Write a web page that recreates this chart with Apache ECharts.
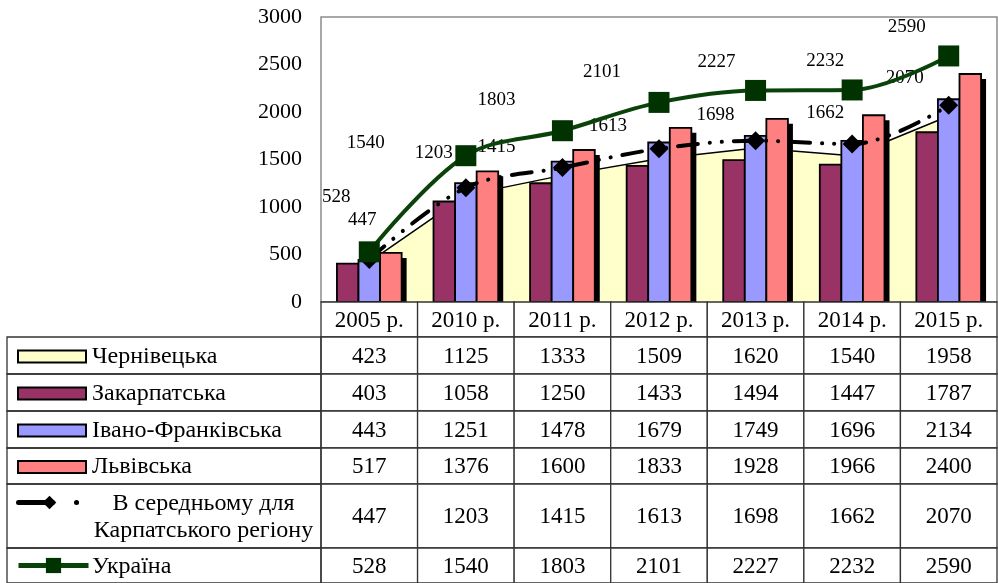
<!DOCTYPE html>
<html>
<head>
<meta charset="utf-8">
<script src="https://cdn.jsdelivr.net/npm/echarts@6/dist/echarts.min.js"></script>
<style>
  html, body { margin: 0; padding: 0; background: #fff; }
  #chart { width: 998px; height: 583px; }
</style>
</head>
<body>
<div id="chart"></div>
<script>
// дані (грн)
const categories = ['2005 р.', '2010 р.', '2011 р.', '2012 р.', '2013 р.', '2014 р.', '2015 р.'];
const chernivetska = [423, 1125, 1333, 1509, 1620, 1540, 1958];
const zakarpatska = [403, 1058, 1250, 1433, 1494, 1447, 1787];
const ivanoFrankivska = [443, 1251, 1478, 1679, 1749, 1696, 2134];
const lvivska = [517, 1376, 1600, 1833, 1928, 1966, 2400];
const average = [447, 1203, 1415, 1613, 1698, 1662, 2070];
const ukraine = [528, 1540, 1803, 2101, 2227, 2232, 2590];
const yMin = 0, yMax = 3000, yStep = 500;

const rowNames = ['Чернівецька', 'Закарпатська', 'Івано-Франківська', 'Львівська',
  'В середньому для Карпатського регіону', 'Україна'];
const rowValues = [chernivetska, zakarpatska, ivanoFrankivska, lvivska, average, ukraine];

// розмітка (не дані): межі рядків таблиці, px від верху таблиці
const rowEdges = [0, 35, 72, 109, 146, 182, 246, 281];
const tableTop = 302;
// зсуви підписів як у Excel
const ukraineLabelShift = [[-33, -55], [-100, -13], [-66, -31], [-57, -30], [-39, -28], [-27, -29], [-42, -29]];
const averageLabelShift = [[-7, -40], [-32, -35], [-66, -21], [-51, -23], [-40, -26], [-27, -31], [-44, -27]];

const font = "'Liberation Serif', 'Times New Roman', serif";
const barColors = ['#993366', '#9999FF', '#FF8080'];

// клітинки таблиці
const valueCells = [];
categories.forEach((c, i) => valueCells.push({ row: 0, col: i, text: c }));
rowValues.forEach((vals, r) => vals.forEach((v, i) => valueCells.push({ row: r + 1, col: i, text: String(v) })));
const nameCells = rowNames.map((n, r) => ({ row: r + 1, text: n }));

function cellRect(api, col, row) {
  const bw = api.size([1, 0])[0];
  const cx = api.coord([col, rowEdges[row]])[0];
  const y0 = api.coord([col, rowEdges[row]])[1];
  const y1 = api.coord([col, rowEdges[row + 1]])[1];
  return { x: cx - bw / 2, y: y0, width: bw, height: y1 - y0 };
}

function drawValueCell(params, api) {
  const cell = valueCells[params.dataIndex];
  const r = cellRect(api, cell.col, cell.row);
  return {
    type: 'group',
    children: [
      { type: 'rect', shape: r, style: { fill: '#fff', stroke: '#333', lineWidth: 1.3 } },
      { type: 'text', style: { text: cell.text, x: r.x + r.width / 2, y: r.y + r.height / 2 + 1,
        align: 'center', verticalAlign: 'middle', fill: '#000', fontSize: 23, fontFamily: font } }
    ]
  };
}

function drawNameCell(params, api) {
  const cell = nameCells[params.dataIndex];
  const r = cellRect(api, 0, cell.row);
  const twoLines = cell.row === 5;
  const text = twoLines ? 'В середньому для\nКарпатського регіону' : cell.text;
  return {
    type: 'group',
    children: [
      { type: 'rect', shape: r, style: { fill: 'none', stroke: '#333', lineWidth: 1.3 } },
      { type: 'text', style: {
        text: text,
        x: twoLines ? r.x + 85 + (r.width - 85) / 2 - 3 : r.x + 85,
        y: r.y + r.height / 2 + 1,
        align: twoLines ? 'center' : 'left', verticalAlign: 'middle',
        lineHeight: 27, fill: '#000', fontSize: 24, fontFamily: font } }
    ]
  };
}

// стовпчик з тінню (тінь окремим прямокутником, щоб не було тіні від контуру)
function barRenderer(slot) {
  return function (params, api) {
    const i = api.value(0);
    const base = api.coord([i, 0]);
    const top = api.coord([i, api.value(1)]);
    const w = api.size([1, 0])[0] * 0.67 / 3;
    const x = base[0] - 1.5 * w + slot * w;
    const h = base[1] - top[1];
    return {
      type: 'group',
      children: [
        { type: 'rect', shape: { x: x + 5, y: top[1] + 5, width: w, height: h }, style: { fill: '#000' } },
        { type: 'rect', shape: { x: x, y: top[1], width: w, height: h },
          style: { fill: barColors[slot], stroke: '#000', lineWidth: 1.8 } }
      ]
    };
  };
}

function rowCenter(row) {
  return tableTop + (rowEdges[row] + rowEdges[row + 1]) / 2;
}

const legendBase = {
  left: 17, padding: 0, selectedMode: false, z: 10, formatter: () => '',
  textStyle: { fontSize: 1 }
};
const rectLegend = (name, color) => ({
  name: name, icon: 'rect',
  itemStyle: { color: color, borderColor: '#000', borderWidth: 2 }
});

const chart = echarts.init(document.getElementById('chart'));
chart.setOption({
  animation: false,
  grid: [
    { left: 321, right: 1, top: 17, bottom: 281, show: true, borderColor: '#8c8c8c', borderWidth: 1.5 },
    { left: 321, right: 1, top: tableTop, bottom: 0 },
    { left: 7, width: 314, top: tableTop + rowEdges[1], bottom: 0 }
  ],
  xAxis: [
    { gridIndex: 0, type: 'category', data: categories, axisLine: { show: false },
      axisTick: { show: false }, axisLabel: { show: false } },
    { gridIndex: 1, type: 'category', data: categories, show: false },
    { gridIndex: 2, type: 'category', data: [''], show: false }
  ],
  yAxis: [
    { gridIndex: 0, type: 'value', min: yMin, max: yMax, interval: yStep,
      axisLine: { show: false }, axisTick: { show: false }, splitLine: { show: false },
      axisLabel: { color: '#000', fontFamily: font, fontSize: 22, margin: 19, formatter: v => String(v) } },
    { gridIndex: 1, type: 'value', min: rowEdges[0], max: rowEdges[rowEdges.length - 1], inverse: true, show: false },
    { gridIndex: 2, type: 'value', min: rowEdges[1], max: rowEdges[rowEdges.length - 1], inverse: true, show: false }
  ],
  legend: [
    Object.assign({}, legendBase, { top: rowCenter(1) - 6, itemWidth: 68, itemHeight: 12,
      data: [rectLegend(rowNames[0], '#FFFFCC')] }),
    Object.assign({}, legendBase, { top: rowCenter(2) - 6, itemWidth: 68, itemHeight: 12,
      data: [rectLegend(rowNames[1], barColors[0])] }),
    Object.assign({}, legendBase, { top: rowCenter(3) - 6, itemWidth: 68, itemHeight: 12,
      data: [rectLegend(rowNames[2], barColors[1])] }),
    Object.assign({}, legendBase, { top: rowCenter(4) - 6, itemWidth: 68, itemHeight: 12,
      data: [rectLegend(rowNames[3], barColors[2])] }),
    Object.assign({}, legendBase, { left: 16, top: tableTop + rowEdges[5] + 10, itemWidth: 62, itemHeight: 17,
      lineStyle: { width: 5, type: [34, 24, 0.1, 100], cap: 'round' },
      data: [rowNames[4]] }),
    Object.assign({}, legendBase, { left: 16, top: rowCenter(6) - 9.5, itemWidth: 70, itemHeight: 19,
      lineStyle: { width: 5 },
      data: [rowNames[5]] })
  ],
  series: [
    {
      name: rowNames[0], type: 'line', data: chernivetska, symbol: 'none', z: 1,
      lineStyle: { color: '#000', width: 1.5 },
      itemStyle: { color: '#FFFFCC' },
      areaStyle: { color: '#FFFFCC', opacity: 1 }
    },
    { name: rowNames[1], type: 'custom', z: 2, data: zakarpatska.map((v, i) => [i, v]),
      encode: { x: 0, y: 1 }, itemStyle: { color: barColors[0] }, renderItem: barRenderer(0) },
    { name: rowNames[2], type: 'custom', z: 2, data: ivanoFrankivska.map((v, i) => [i, v]),
      encode: { x: 0, y: 1 }, itemStyle: { color: barColors[1] }, renderItem: barRenderer(1) },
    { name: rowNames[3], type: 'custom', z: 2, data: lvivska.map((v, i) => [i, v]),
      encode: { x: 0, y: 1 }, itemStyle: { color: barColors[2] }, renderItem: barRenderer(2) },
    {
      name: rowNames[4], type: 'line', z: 4, smooth: 0.35,
      data: average.map((v, i) => ({ value: v, label: { offset: averageLabelShift[i] } })),
      symbol: 'diamond', symbolSize: 19,
      itemStyle: { color: '#000' },
      lineStyle: { color: '#000', width: 4, type: [20, 12, 0.1, 12, 0.1, 12], cap: 'round' },
      label: { show: true, position: 'inside', color: '#000', fontFamily: font, fontSize: 19 }
    },
    {
      name: rowNames[5], type: 'line', z: 5, smooth: 0.35,
      data: ukraine.map((v, i) => ({ value: v, label: { offset: ukraineLabelShift[i] } })),
      symbol: 'rect', symbolSize: 21,
      itemStyle: { color: '#003300' },
      lineStyle: { color: '#0a430a', width: 4 },
      label: { show: true, position: 'inside', color: '#000', fontFamily: font, fontSize: 19 }
    },
    {
      type: 'custom', xAxisIndex: 1, yAxisIndex: 1, z: 6, silent: true,
      data: valueCells.map(c => [c.col, rowEdges[c.row]]),
      renderItem: drawValueCell
    },
    {
      type: 'custom', xAxisIndex: 2, yAxisIndex: 2, z: 6, silent: true,
      data: nameCells.map(c => [0, rowEdges[c.row]]),
      renderItem: drawNameCell
    }
  ]
});
</script>
</body>
</html>
